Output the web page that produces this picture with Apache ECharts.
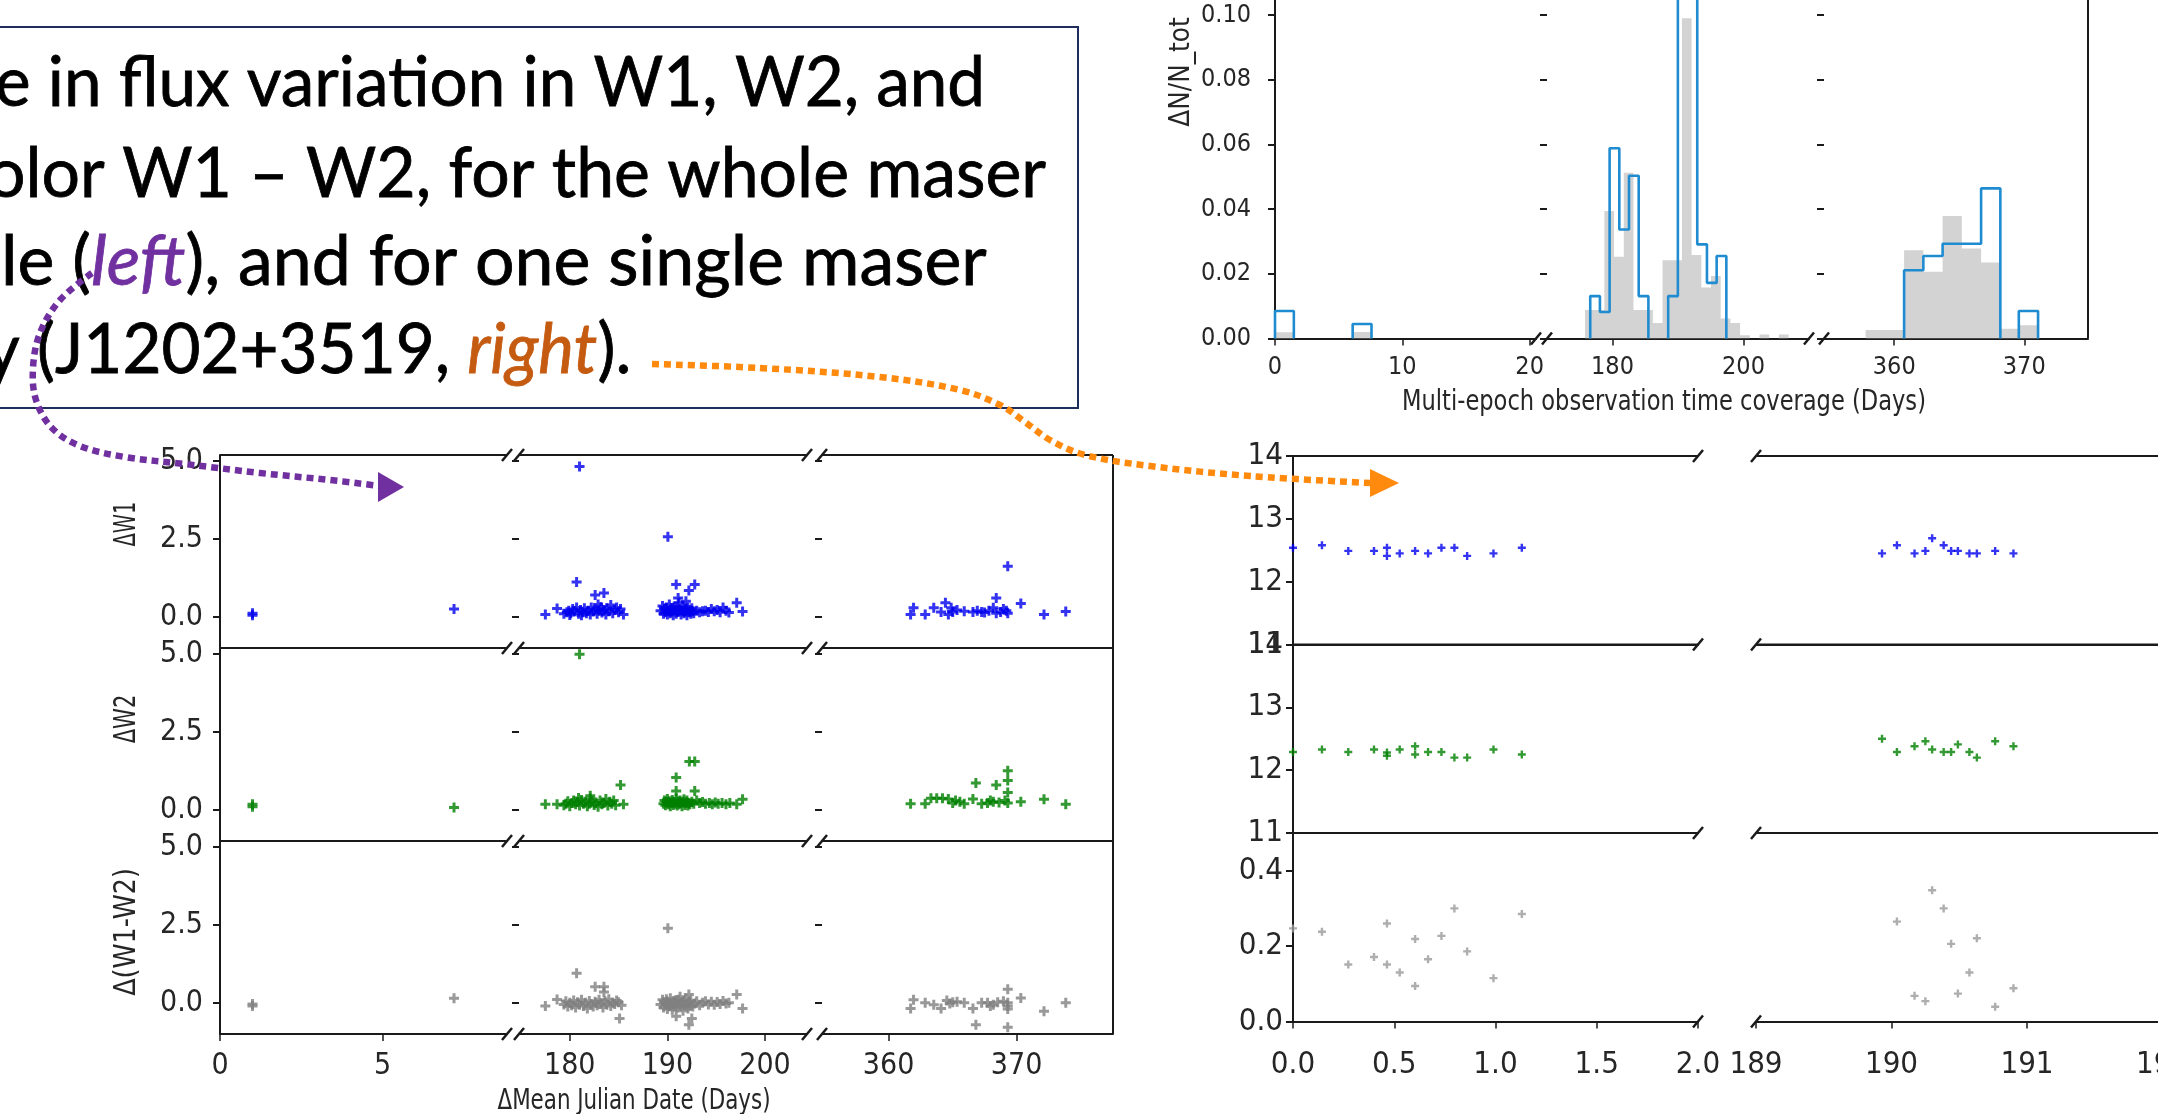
<!DOCTYPE html>
<html><head><meta charset="utf-8">
<script src="https://cdn.jsdelivr.net/npm/echarts@6/dist/echarts.min.js"></script>
<style>html,body{margin:0;padding:0;background:#fff;overflow:hidden}#c{width:2158px;height:1114px}</style>
</head><body><div id="c"></div>
<script>
// ---------------- DATA ----------------
// Histogram of multi-epoch time coverage (ΔN/N_tot); each group = start edge + consecutive bin heights
const histBin = 1.48;
const histBlueStart = [0, 6.1, 176.6, 188.5, 360.76, 369.58];
const histBlueValues = [
  [0.0085], [0.0045],
  [0.0131, 0.0082, 0.0588, 0.0337, 0.0503, 0.0131],
  [0.0131, 0.125, 0.118, 0.0291, 0.0172, 0.0255],
  [0.0211, 0.0255, 0.0293, 0.0293, 0.0464],
  [0.0085]
];
const histGrayStart = [0, 6.1, 175.8, 357.8];
const histGrayValues = [
  [0.0019], [0.002],
  [0.0088, 0.0088, 0.0394, 0.0253, 0.0512, 0.0088, 0.0088, 0.0048, 0.0242, 0.0242, 0.099,
   0.0258, 0.0158, 0.0193, 0.0062, 0.0048, 0.001, 0, 0.0012, 0, 0.0012],
  [0.0026, 0.0026, 0.0273, 0.0206, 0.0379, 0.0278, 0.0235, 0.003, 0.0041]
];
const histYTicks = [0, 0.02, 0.04, 0.06, 0.08, 0.10];
const histXTicks = [[0, 10, 20], [180, 200], [360, 370]];

// Whole sample: ΔW1, ΔW2, Δ(W1-W2) vs ΔMean Julian Date (days)
const leftW1 = [[1.0,0.12],[1.0,0.05],[7.2,0.25],
  [181.0,4.83],[190.05,2.57],[180.7,1.12],[190.9,1.04],[192.8,1.04],[192.2,0.85],[182.6,0.70],[183.5,0.77],[191.1,0.61],[191.9,0.5],[197.1,0.45],[197.7,0.17],[177.5,0.08],[178.7,0.27],[185.5,0.08],
  [179.4,0.1],[179.7,0.15],[179.9,0.2],[180.1,0.12],[180.3,0.25],[180.5,0.18],[180.7,0.3],[180.9,0.1],[181.1,0.22],[181.3,0.15],[181.5,0.28],[181.7,0.12],[181.9,0.2],[182.1,0.08],[182.2,0.3],[182.4,0.17],[182.6,0.24],[182.8,0.1],[183.0,0.2],[183.2,0.32],[183.3,0.14],[183.5,0.22],[183.7,0.08],[183.8,0.28],[184.0,0.18],[184.2,0.38],[184.4,0.12],[184.6,0.22],[184.8,0.3],[185.0,0.15],[185.2,0.25],[181.2,0.05],[182.9,0.4],[180.0,0.06],
  [189.3,0.2],[189.5,0.35],[189.6,0.1],[189.7,0.25],[189.8,0.15],[189.9,0.3],[190.0,0.08],[190.1,0.2],[190.2,0.4],[190.3,0.12],[190.4,0.28],[190.5,0.18],[190.6,0.05],[190.7,0.33],[190.8,0.22],[190.9,0.1],[191.0,0.3],[191.1,0.16],[191.2,0.45],[191.3,0.24],[191.4,0.08],[191.5,0.2],[191.6,0.35],[191.7,0.12],[191.8,0.26],[191.9,0.18],[192.0,0.05],[192.1,0.3],[192.2,0.15],[192.3,0.22],[192.4,0.1],[192.5,0.28],[192.6,0.18],[192.7,0.12],[193.0,0.2],[193.3,0.15],[193.6,0.18],[193.9,0.2],[194.2,0.16],[194.5,0.25],[194.8,0.18],[195.1,0.22],[195.4,0.15],[195.7,0.3],[196.0,0.2],[196.3,0.14],
  [369.31,1.63],[368.41,0.61],[370.33,0.43],[364.44,0.45],[372.14,0.08],[373.84,0.17],[361.72,0.08],[361.95,0.29],[362.86,0.08],[363.53,0.29],[364.10,0.16],[364.89,0.29],[365.01,0.16],[365.35,0.22],[365.91,0.18],[366.59,0.16],[367.27,0.16],[367.84,0.2],[368.18,0.29],[368.75,0.16],[369.20,0.2],[369.31,0.12],[368.41,0.12],[364.67,0.08],[366.93,0.2],[367.50,0.14],[368.97,0.25]];
const leftW2 = [[1.0,0.18],[1.0,0.1],[7.2,0.08],
  [181.0,5.0],[192.25,1.55],[192.8,1.55],[190.9,1.04],[185.2,0.80],[190.9,0.61],[192.8,0.61],[182.1,0.45],[177.5,0.18],[178.7,0.18],[185.5,0.18],[197.1,0.18],[197.7,0.34],
  [179.4,0.15],[179.6,0.2],[179.8,0.28],[180.0,0.12],[180.2,0.22],[180.4,0.3],[180.6,0.18],[180.8,0.25],[181.0,0.14],[181.2,0.32],[181.4,0.2],[181.6,0.26],[181.8,0.12],[182.0,0.2],[182.3,0.28],[182.5,0.16],[182.7,0.24],[182.9,0.1],[183.1,0.3],[183.3,0.18],[183.5,0.22],[183.7,0.35],[183.9,0.14],[184.1,0.26],[184.3,0.2],[184.5,0.3],[184.7,0.15],[180.9,0.38],[182.1,0.36],
  [189.6,0.2],[189.7,0.3],[189.8,0.15],[189.9,0.25],[190.0,0.35],[190.1,0.18],[190.2,0.28],[190.3,0.12],[190.4,0.22],[190.5,0.32],[190.6,0.16],[190.7,0.26],[190.8,0.2],[190.9,0.36],[191.0,0.14],[191.1,0.28],[191.2,0.18],[191.3,0.3],[191.4,0.22],[191.5,0.12],[191.6,0.26],[191.7,0.34],[191.8,0.16],[191.9,0.24],[192.0,0.3],[192.1,0.14],[192.2,0.22],[192.3,0.18],[192.5,0.26],[192.7,0.2],[193.0,0.3],[193.3,0.22],[193.6,0.25],[193.9,0.2],[194.3,0.22],[194.6,0.18],[194.9,0.24],[195.2,0.2],[195.6,0.22],[196.0,0.18],[196.4,0.22],
  [369.31,1.26],[369.31,0.94],[368.41,0.80],[366.82,0.86],[369.31,0.56],[361.72,0.2],[362.86,0.2],[363.31,0.37],[363.76,0.37],[364.21,0.37],[364.67,0.35],[365.23,0.3],[365.01,0.22],[365.91,0.2],[366.59,0.35],[367.27,0.2],[367.73,0.22],[368.18,0.26],[368.63,0.24],[369.09,0.3],[369.31,0.22],[370.33,0.26],[372.14,0.34],[373.84,0.18],[365.57,0.26],[367.95,0.3]];
const leftW12 = [[1.0,-0.1],[1.0,-0.04],[7.2,0.15],
  [190.05,2.40],[180.7,0.95],[182.6,0.52],[183.5,0.52],[183.5,0.35],[177.5,-0.10],[178.7,0.11],[185.1,-0.5],[190.9,-0.43],[192.5,-0.5],[192.2,-0.70],[197.1,0.27],[197.7,-0.18],[192.2,0.27],
  [179.4,-0.05],[179.6,0.05],[179.8,-0.12],[180.0,0.0],[180.2,-0.08],[180.4,0.08],[180.6,-0.15],[180.8,0.02],[181.0,-0.06],[181.2,0.1],[181.4,-0.1],[181.6,0.0],[181.8,-0.18],[182.0,0.06],[182.2,-0.04],[182.4,-0.12],[182.6,0.04],[182.8,-0.08],[183.0,0.1],[183.2,-0.02],[183.4,-0.15],[183.6,0.05],[183.8,-0.06],[184.0,0.12],[184.2,-0.1],[184.4,0.0],[184.6,-0.04],[184.8,0.08],[185.0,0.02],[185.3,-0.08],
  [189.3,-0.05],[189.5,0.1],[189.6,-0.15],[189.7,0.02],[189.8,-0.08],[189.9,0.12],[190.0,-0.2],[190.1,0.0],[190.2,-0.1],[190.3,0.15],[190.4,-0.05],[190.5,-0.22],[190.6,0.05],[190.7,-0.12],[190.8,0.08],[190.9,-0.02],[191.0,-0.15],[191.1,0.1],[191.2,-0.06],[191.3,0.2],[191.4,-0.1],[191.5,0.02],[191.6,-0.25],[191.7,0.06],[191.8,-0.08],[191.9,0.12],[192.0,-0.04],[192.1,-0.18],[192.2,0.04],[192.3,-0.1],[192.4,0.08],[192.6,-0.12],[192.8,-0.02],[193.0,0.05],[193.3,-0.08],[193.6,0.0],[193.9,0.05],[194.2,-0.05],[194.5,0.04],[194.8,-0.06],[195.1,0.03],[195.4,-0.04],[195.7,0.06],[196.0,-0.02],[196.3,0.0],
  [369.31,0.44],[370.33,0.16],[369.31,0.0],[369.31,-0.1],[369.31,-0.2],[366.82,-0.70],[369.31,-0.78],[372.14,-0.27],[373.84,0.0],[361.72,-0.18],[361.95,0.1],[362.86,0.0],[363.53,-0.06],[364.10,-0.18],[364.55,0.08],[365.01,0.02],[365.35,0.04],[365.91,0.0],[366.59,-0.18],[367.27,0.0],[367.73,0.0],[368.18,-0.06],[368.52,0.02],[368.97,0.05],[364.78,-0.02],[367.95,-0.1]];
const leftYTicks = [0, 2.5, 5];
const leftXTicks = [[0, 5], [180, 190, 200], [360, 370]];

// Single maser galaxy J1202+3519: W1, W2 magnitudes and W1-W2 colour
const rightW1 = [[0,12.54],[0.143,12.58],[0.273,12.49],[0.40,12.49],[0.464,12.54],[0.464,12.41],[0.527,12.45],[0.603,12.49],[0.667,12.45],[0.733,12.54],[0.797,12.54],[0.860,12.41],[0.99,12.45],[1.13,12.54],
  [189.93,12.45],[190.04,12.58],[190.17,12.45],[190.25,12.49],[190.30,12.69],[190.385,12.58],[190.44,12.49],[190.49,12.49],[190.575,12.45],[190.63,12.45],[190.765,12.49],[190.90,12.45]];
const rightW2 = [[0,12.29],[0.143,12.33],[0.273,12.29],[0.40,12.33],[0.464,12.28],[0.464,12.23],[0.527,12.33],[0.603,12.38],[0.603,12.25],[0.667,12.29],[0.733,12.29],[0.797,12.20],[0.860,12.20],[0.99,12.33],[1.13,12.25],
  [189.93,12.50],[190.04,12.29],[190.17,12.38],[190.25,12.46],[190.30,12.33],[190.385,12.29],[190.44,12.29],[190.49,12.41],[190.575,12.29],[190.63,12.20],[190.765,12.46],[190.90,12.38]];
const rightW12 = [[0,0.247],[0.143,0.238],[0.273,0.151],[0.40,0.171],[0.464,0.26],[0.464,0.151],[0.527,0.13],[0.603,0.219],[0.603,0.094],[0.667,0.165],[0.733,0.227],[0.797,0.30],[0.860,0.186],[0.99,0.115],[1.13,0.285],
  [190.04,0.265],[190.17,0.068],[190.25,0.054],[190.30,0.348],[190.385,0.30],[190.44,0.206],[190.49,0.074],[190.575,0.13],[190.63,0.221],[190.765,0.039],[190.90,0.088]];
const rightMagTicks = [11, 12, 13, 14];
const rightColTicks = [0, 0.2, 0.4];
const rightXTicks = [[0, 0.5, 1.0, 1.5, 2.0], [189, 190, 191, 192]];

// ---------------- LAYOUT / STYLE ----------------
const FONT = "'Liberation Sans Narrow','DejaVu Sans Condensed','Arial Narrow',sans-serif";
const AX = '#1a1a1a', TXT = '#262626';
const PLUS = 'path://M3.5,0H6.5V3.5H10V6.5H6.5V10H3.5V6.5H0V3.5H3.5Z';

const HIST = { top: -17.35, height: 355.85, ymin: 0, ymax: 0.11,
  segs: [{left:1275,width:261,min:0,max:20.5},{left:1547,width:262,min:170,max:210},{left:1824,width:264,min:354.6,max:374.9}] };
const LEFT = { tops: [455, 648, 841], height: 193, ymin: -1.0, ymax: 5.2,
  segs: [{left:220,width:287,min:0,max:8.83},{left:519,width:288,min:174.8,max:204.3},{left:822,width:291,min:354.8,max:377.53}] };
const RIGHT = { tops: [456, 644.5, 833], height: 188.5,
  yr: [[11,14],[11,14],[0,0.5]],
  segs: [{left:1293,width:405,min:0,max:2},{left:1756,width:433.6,min:189,max:192.2}] };

const grids = [], xAxes = [], yAxes = [], series = [];
function addGrid(g, xa, ya) {
  grids.push(Object.assign({ containLabel:false, outerBoundsMode:'none' }, g));
  const i = grids.length - 1;
  xAxes.push(Object.assign({ gridIndex:i, type:'value', splitLine:{show:false} }, xa));
  yAxes.push(Object.assign({ gridIndex:i, type:'value', splitLine:{show:false} }, ya));
  return i;
}
function xCfg(seg, ticks, show, fs, fmt, margin) {
  return { min: seg.min, max: seg.max,
    axisLine: { show:true, onZero:false, lineStyle:{ color:AX, width:2 } },
    axisTick: { show: show, customValues: ticks, length: 7, lineStyle:{ color:AX, width:1.5 } },
    axisLabel: { show: show, customValues: ticks, formatter: fmt, fontSize: fs, fontFamily: FONT, color: TXT, margin: margin } };
}
function yCfg(min, max, ticks, first, showTicks, fs, fmt, margin) {
  return { min: min, max: max,
    axisLine: { show: first, onZero:false, lineStyle:{ color:AX, width:2 } },
    axisTick: { show: showTicks, customValues: ticks, length: 7, lineStyle:{ color:AX, width:2 } },
    axisLabel: { show: first, customValues: ticks, formatter: fmt, fontSize: fs, fontFamily: FONT, color: TXT, margin: margin } };
}
function inSeg(seg, x) { return x >= seg.min && x <= seg.max; }

// ---- histogram
const histIdx = HIST.segs.map((s, k) => addGrid(
  { left: s.left, top: HIST.top, width: s.width, height: HIST.height },
  xCfg(s, histXTicks[k], true, 25, v => String(v), 16),
  yCfg(HIST.ymin, HIST.ymax, histYTicks, k === 0, true, 25, v => v.toFixed(2), 24)));
function stepGroups(starts, values, bin) {
  return starts.map((s, g) => {
    const pts = [[s, 0]];
    values[g].forEach((h, i) => { pts.push([s + i * bin, h]); pts.push([s + (i + 1) * bin, h]); });
    pts.push([s + values[g].length * bin, 0]);
    return pts;
  });
}
stepGroups(histGrayStart, histGrayValues, histBin).forEach(pts => {
  const k = HIST.segs.findIndex(s => inSeg(s, pts[0][0]));
  series.push({ type:'line', xAxisIndex: histIdx[k], yAxisIndex: histIdx[k], data: pts, symbol:'none', silent:true,
    lineStyle:{ width:0 }, areaStyle:{ color:'#d3d3d3', opacity:1 }, z:1 });
});
stepGroups(histBlueStart, histBlueValues, histBin).forEach(pts => {
  const k = HIST.segs.findIndex(s => inSeg(s, pts[0][0]));
  series.push({ type:'line', xAxisIndex: histIdx[k], yAxisIndex: histIdx[k], data: pts, symbol:'none', silent:true,
    lineStyle:{ color:'#1f8bd0', width:2.6 }, z:3 });
});

// ---- left scatter panel
const leftData = [leftW1, leftW2, leftW12];
const leftColors = ['#0000ee', '#008000', '#808080'];
LEFT.tops.forEach((top, r) => {
  LEFT.segs.forEach((s, k) => {
    const bottom = r === 2;
    const i = addGrid({ left: s.left, top: top, width: s.width, height: LEFT.height },
      xCfg(s, leftXTicks[k], bottom, 30, v => String(v), 17),
      yCfg(LEFT.ymin, LEFT.ymax, leftYTicks, k === 0, true, 30, v => v.toFixed(1), 17));
    series.push({ type:'scatter', xAxisIndex:i, yAxisIndex:i, silent:true, symbol: PLUS, symbolSize: 10,
      itemStyle:{ color: leftColors[r] }, data: leftData[r].filter(p => inSeg(s, p[0])), z:4 });
  });
});

// ---- right scatter panel
const rightData = [rightW1, rightW2, rightW12];
const rightColors = ['#0000ee', '#008000', '#9a9a9a'];
const rightYTicks = [rightMagTicks, rightMagTicks, rightColTicks];
RIGHT.tops.forEach((top, r) => {
  RIGHT.segs.forEach((s, k) => {
    const bottom = r === 2;
    const i = addGrid({ left: s.left, top: top, width: s.width, height: RIGHT.height },
      xCfg(s, rightXTicks[k], bottom, 31, v => (k === 0 ? v.toFixed(1) : String(v)), 28),
      yCfg(RIGHT.yr[r][0], RIGHT.yr[r][1], rightYTicks[r], k === 0, k === 0, 31, v => (r === 2 ? v.toFixed(1) : String(v)), 10));
    series.push({ type:'scatter', xAxisIndex:i, yAxisIndex:i, silent:true, symbol: PLUS, symbolSize: 8,
      itemStyle:{ color: rightColors[r] }, data: rightData[r].filter(p => inSeg(s, p[0])), z:4 });
  });
});

// ---------------- GRAPHICS (frame, caption, arrows) ----------------
const g = [];
function line(x1, y1, x2, y2, w, c) { g.push({ type:'line', shape:{x1,y1,x2,y2}, style:{ stroke: c || AX, lineWidth: w || 2 }, silent:true, z:50 }); }
function brk(x, y) { line(x - 5, y + 6, x + 5, y - 6, 2.5); }

// spines
LEFT.tops.forEach(t => LEFT.segs.forEach(s => line(s.left, t, s.left + s.width, t)));
const ls = LEFT.segs[2];
line(ls.left + ls.width, LEFT.tops[0], ls.left + ls.width, LEFT.tops[2] + LEFT.height);
RIGHT.tops.forEach(t => RIGHT.segs.forEach(s => line(s.left, t, s.left + s.width, t)));
const hs = HIST.segs[2];
line(hs.left + hs.width, HIST.top, hs.left + hs.width, HIST.top + HIST.height);
// break marks
const hb = HIST.top + HIST.height;
[HIST.segs[0].left + HIST.segs[0].width, HIST.segs[1].left, HIST.segs[1].left + HIST.segs[1].width, HIST.segs[2].left].forEach(x => brk(x, hb));
const leftYs = LEFT.tops.concat([LEFT.tops[2] + LEFT.height]);
[LEFT.segs[0].left + LEFT.segs[0].width, LEFT.segs[1].left, LEFT.segs[1].left + LEFT.segs[1].width, LEFT.segs[2].left].forEach(x => leftYs.forEach(y => brk(x, y)));
const rightYs = RIGHT.tops.concat([RIGHT.tops[2] + RIGHT.height]);
[RIGHT.segs[0].left + RIGHT.segs[0].width, RIGHT.segs[1].left].forEach(x => rightYs.forEach(y => brk(x, y)));

// axis titles
function title(text, x, y, fs, rot, sx) {
  g.push({ type:'text', x, y, rotation: rot || 0, scaleX: sx || 1, silent:true, z:50,
    style:{ text, fontSize: fs, fontFamily: FONT, fill: TXT, align:'center', verticalAlign:'middle' } });
}
title('ΔN/N_tot', 1181, 72, 29, Math.PI / 2, 0.95);
title('Multi-epoch observation time coverage (Days)', 1664, 402, 29, 0, 0.865);
title('ΔW1', 127, 524, 30, Math.PI / 2, 0.72);
title('ΔW2', 127, 719, 30, Math.PI / 2, 0.78);
title('Δ(W1-W2)', 127, 932, 30, Math.PI / 2, 0.94);
title('ΔMean Julian Date (Days)', 634, 1101, 29, 0, 0.82);

// caption box
g.push({ type:'rect', shape:{ x:-5, y:27, width:1083, height:381 }, style:{ fill:'#fff', stroke:'#1f2d5c', lineWidth:2 }, silent:true, z:40 });
const CAP_FONT = 'Lato', CAP_SIZE = 69, CAP_STROKE = 0.8;
const captions = [
  { text:'e in flux variation in W1, W2, and', plain:'e in flux variation in W1, W2, and', x:-5, y:118, right:985 },
  { text:'olor W1 – W2, for the whole maser', plain:'olor W1 – W2, for the whole maser', x:-13, y:209, right:1046 },
  { text:'le ({p|left}), and for one single maser', plain:'le (left), and for one single maser', x:1, y:297, right:993 },
  { text:'y (J1202+3519, {r|right}).', plain:'y (J1202+3519, right).', x:-15, y:385, right:638 }
];
const mctx = document.createElement('canvas').getContext('2d');
mctx.font = CAP_SIZE + 'px ' + CAP_FONT;
captions.forEach(c => {
  const w = mctx.measureText(c.plain).width;
  const sx = (c.right - c.x) / w;
  g.push({ type:'text', x: c.x, y: c.y, scaleX: sx, silent:true, z:45,
    style:{ text: c.text, x:0, y:0, fontSize: CAP_SIZE, fontFamily: CAP_FONT, fill:'#000', stroke:'#000', lineWidth:CAP_STROKE, verticalAlign:'bottom',
      rich:{
        p:{ fontSize: CAP_SIZE, fontFamily: CAP_FONT, fontStyle:'italic', fill:'#7030a0', stroke:'#7030a0', lineWidth:CAP_STROKE, verticalAlign:'bottom' },
        r:{ fontSize: CAP_SIZE, fontFamily: CAP_FONT, fontStyle:'italic', fill:'#c55a11', stroke:'#c55a11', lineWidth:CAP_STROKE, verticalAlign:'bottom' }
      } } });
});

// dotted arrows
g.push({ type:'polyline', silent:true, z:60,
  shape:{ smooth:0.35, points:[[92,273],[60,300],[40,333],[33,368],[36,400],[52,428],[80,446],[125,457],[185,464],[260,473],[330,480],[380,486]] },
  style:{ stroke:'#7030a0', lineWidth:6.5, lineDash:[7,5], fill:null } });
g.push({ type:'polygon', silent:true, z:60, shape:{ points:[[378,472],[404,487],[378,502]] }, style:{ fill:'#7030a0' } });
g.push({ type:'polyline', silent:true, z:60,
  shape:{ smooth:0.35, points:[[652,364],[760,368],[880,377],[960,390],[1000,405],[1025,422],[1050,440],[1085,455],[1150,466],[1250,476],[1370,483]] },
  style:{ stroke:'#ff8a0d', lineWidth:6.5, lineDash:[7,5], fill:null } });
g.push({ type:'polygon', silent:true, z:60, shape:{ points:[[1370,469],[1399,483],[1370,497]] }, style:{ fill:'#ff8a0d' } });

const chart = echarts.init(document.getElementById('c'), null, { renderer:'canvas', width:2158, height:1114 });
chart.setOption({ animation:false, backgroundColor:'#fff', grid: grids, xAxis: xAxes, yAxis: yAxes, series: series, graphic: g });
</script></body></html>
